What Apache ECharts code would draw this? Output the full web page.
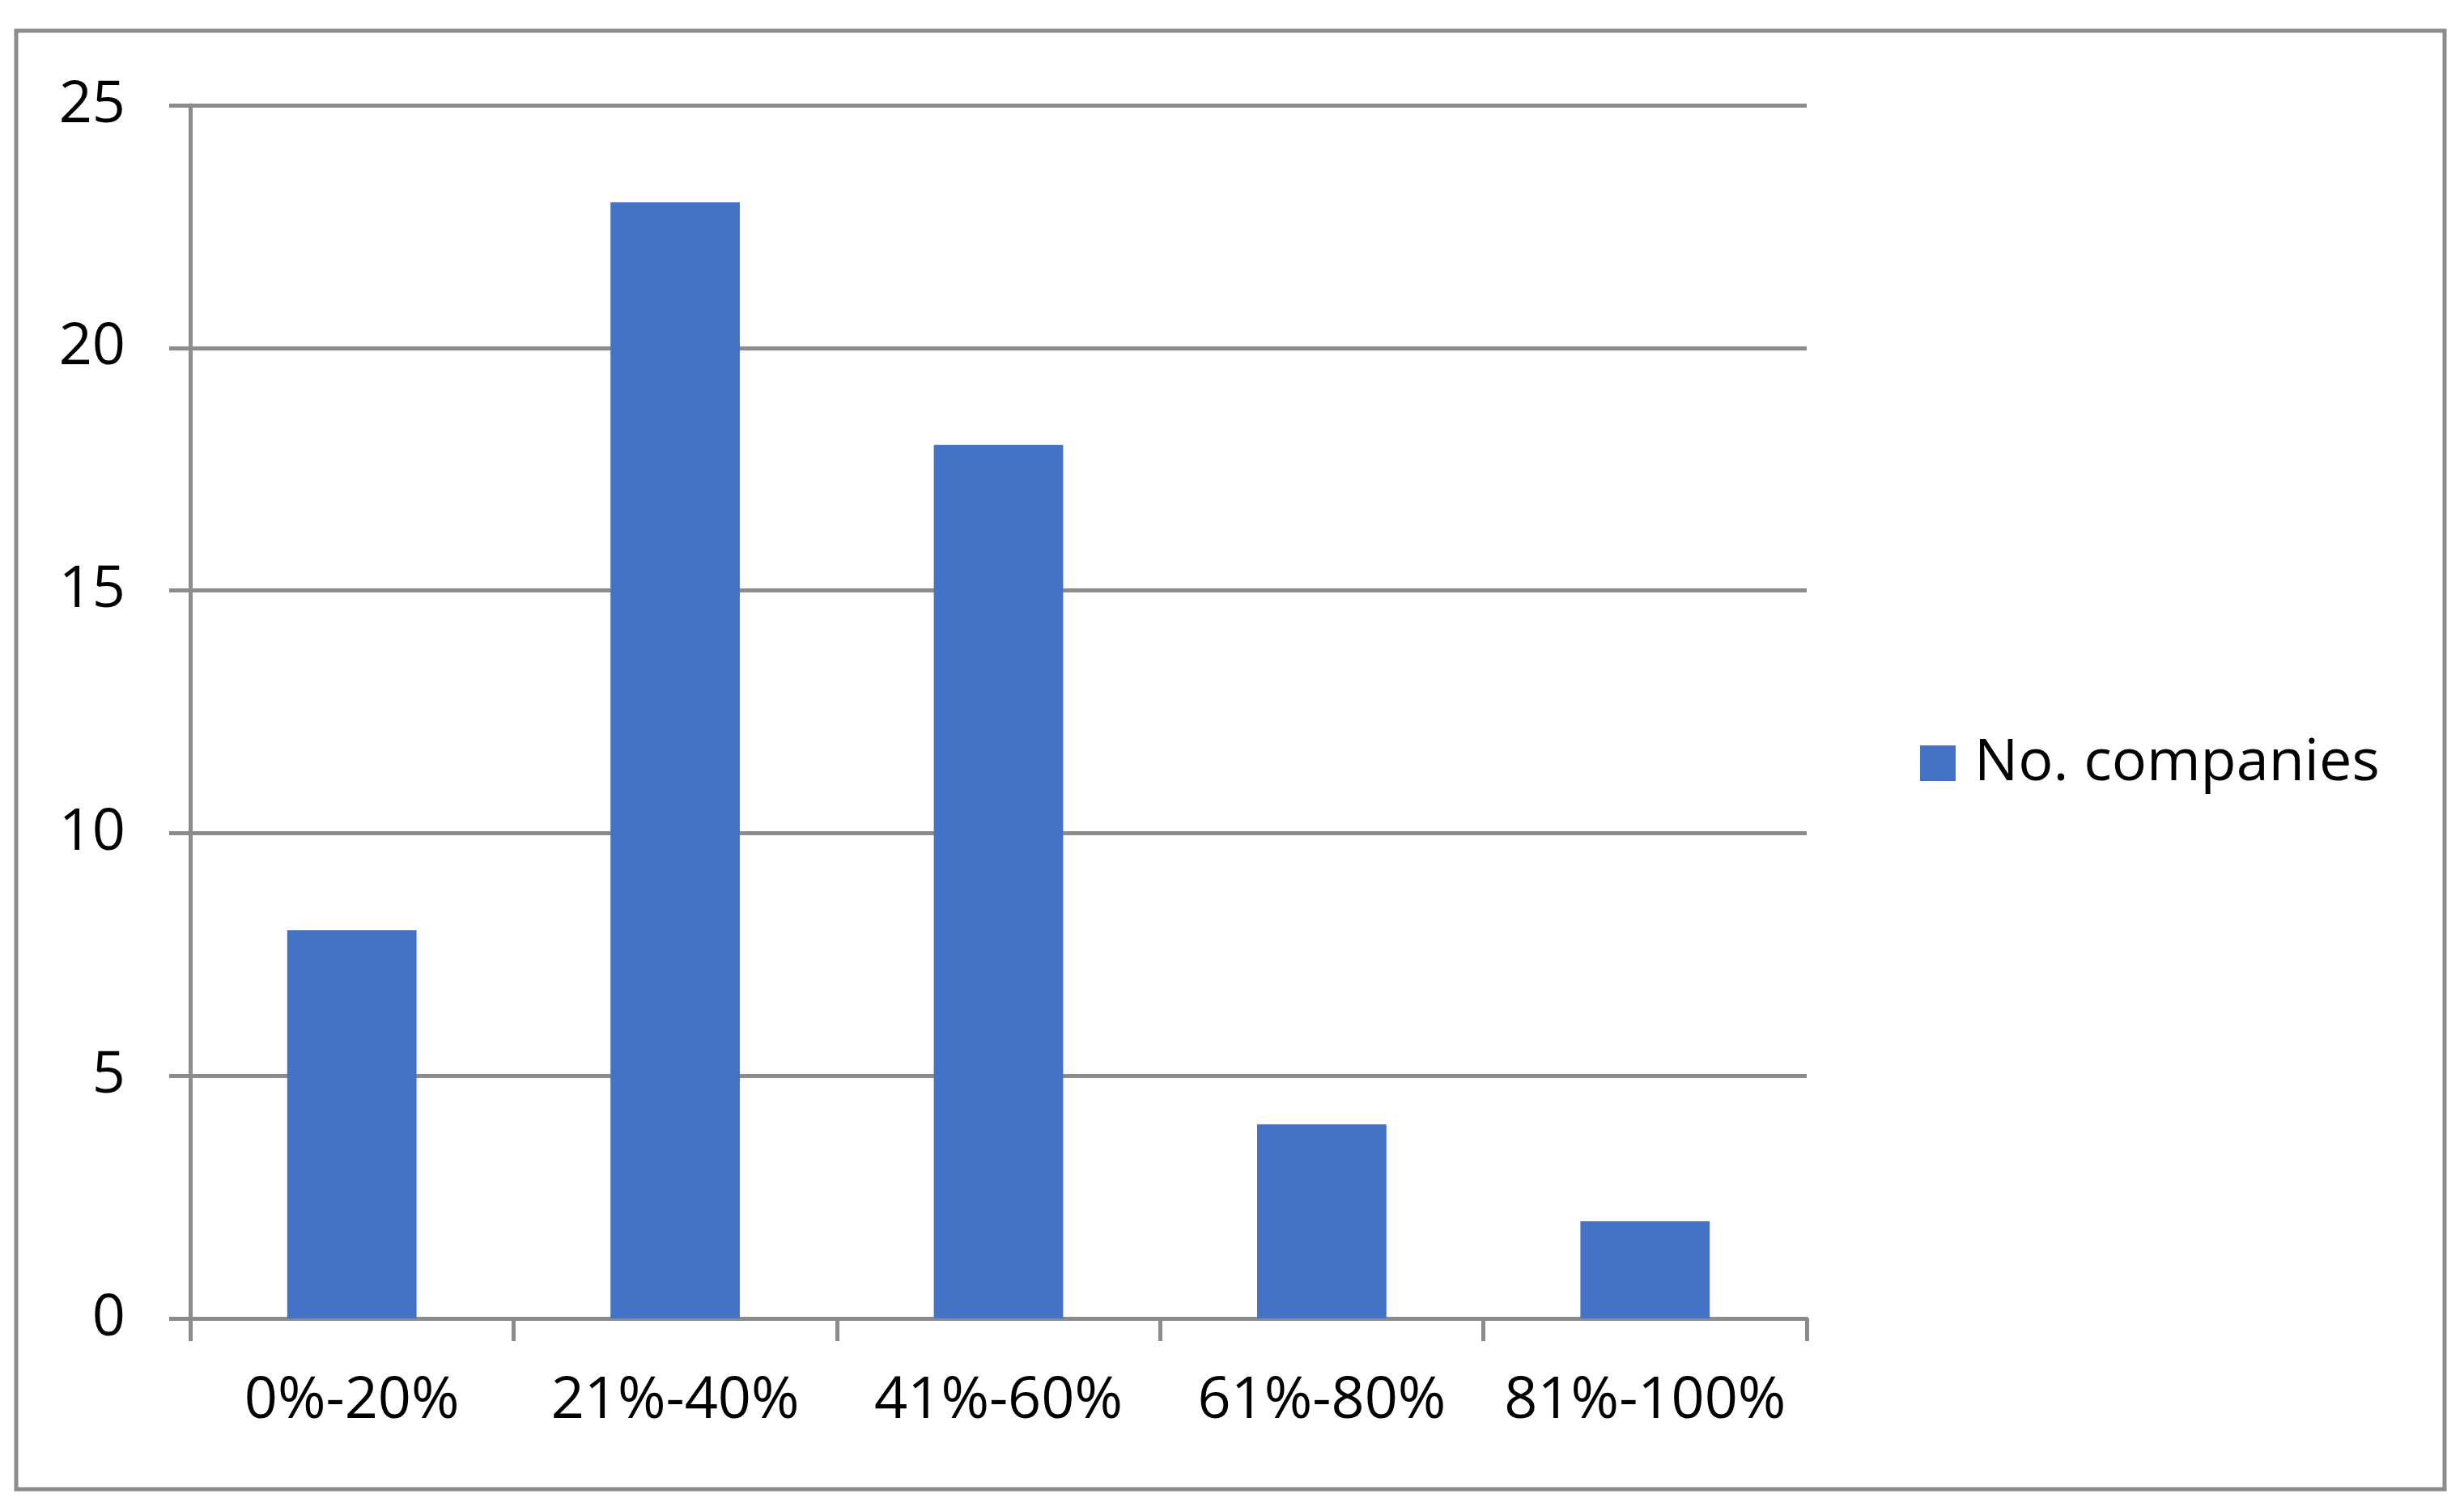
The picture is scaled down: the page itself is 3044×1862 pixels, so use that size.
<!DOCTYPE html>
<html>
<head>
<meta charset="utf-8">
<script src="https://cdn.jsdelivr.net/npm/echarts@6/dist/echarts.min.js"></script>
<style>
  html, body { margin: 0; padding: 0; background: #fff; }
  #chart { width: 3044px; height: 1862px; }
</style>
</head>
<body>
<div id="chart"></div>
<script>
// data
const categories = ['0%-20%', '21%-40%', '41%-60%', '61%-80%', '81%-100%']
const companies = [8, 23, 18, 4, 2]
const seriesName = 'No. companies'

const gray = '#8c8c8c'
const font = 'Open Sans'

const chart = echarts.init(document.getElementById('chart'))
chart.setOption({
  animation: false,
  backgroundColor: '#fff',
  textStyle: { fontFamily: font },
  graphic: [{
    type: 'rect',
    shape: { x: 20, y: 38, width: 3000, height: 1802 },
    style: { fill: 'none', stroke: gray, lineWidth: 5 },
    z: -1
  }],
  legend: {
    data: [seriesName],
    orient: 'vertical',
    left: 2367,
    top: 902,
    itemWidth: 44,
    itemHeight: 44,
    icon: 'rect',
    textStyle: {
      fontFamily: font,
      fontSize: 72,
      color: '#000',
      padding: [0, 0, 0, 18]
    }
  },
  grid: {
    left: 235,
    right: 812,
    top: 130,
    bottom: 233
  },
  xAxis: {
    type: 'category',
    data: categories,
    axisLine: { lineStyle: { color: gray, width: 5 } },
    axisTick: {
      show: true,
      interval: 0,
      length: 28,
      lineStyle: { color: gray, width: 5 }
    },
    axisLabel: {
      interval: 0,
      fontFamily: font,
      fontSize: 72,
      color: '#000',
      margin: 66
    }
  },
  yAxis: {
    type: 'value',
    min: 0,
    max: 25,
    interval: 5,
    axisLine: { show: true, lineStyle: { color: gray, width: 5 } },
    axisTick: {
      show: true,
      length: 26,
      lineStyle: { color: gray, width: 5 }
    },
    splitLine: { lineStyle: { color: gray, width: 5 } },
    axisLabel: {
      fontFamily: font,
      fontSize: 72,
      color: '#000',
      margin: 80
    }
  },
  series: [{
    name: seriesName,
    type: 'bar',
    data: companies,
    barWidth: '40%',
    itemStyle: { color: '#4472C4' }
  }]
})
</script>
</body>
</html>
